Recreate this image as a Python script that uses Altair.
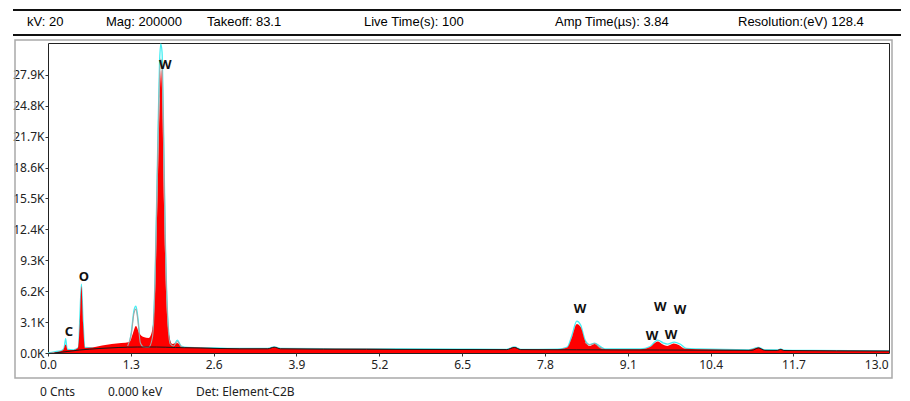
import altair as alt
import pandas as pd

# ---------------- data ----------------
x_ticks = [0.0, 1.3, 2.6, 3.9, 5.2, 6.5, 7.8, 9.1, 10.4, 11.7, 13.0]
y_ticks = [0.0, 3.1, 6.2, 9.3, 12.4, 15.5, 18.6, 21.7, 24.8, 27.9]

# measured spectrum (red fill), keV / K counts
red_kev = [0.00, 0.10, 0.18, 0.24, 0.277, 0.31, 0.40, 0.47, 0.50, 0.525, 0.55, 0.58, 0.70, 0.85, 1.00,
           1.15, 1.28, 1.33, 1.38, 1.43, 1.50, 1.58, 1.64, 1.68, 1.72, 1.755, 1.775, 1.795, 1.82, 1.86,
           1.90, 1.95, 2.03, 2.10, 2.30, 2.60, 3.00, 3.45, 3.55, 3.65, 4.50, 5.50, 6.50, 7.20, 7.32,
           7.42, 8.00, 8.15, 8.22, 8.30, 8.36, 8.43, 8.50, 8.58, 8.66, 8.75, 9.30, 9.45, 9.57, 9.65,
           9.72, 9.82, 9.90, 10.00, 10.20, 11.00, 11.15, 11.25, 11.45, 11.50, 11.55, 12.00, 13.20]
red_k = [0.0, 0.05, 0.15, 0.3, 0.85, 0.3, 0.3, 0.5, 3.0, 6.7, 3.0, 0.5, 0.55, 0.75, 0.9,
         1.0, 1.1, 1.9, 2.7, 2.0, 1.6, 1.5, 2.4, 6.0, 16.0, 25.5, 28.4, 25.0, 15.0, 5.0,
         1.8, 0.9, 1.0, 0.6, 0.55, 0.5, 0.45, 0.45, 0.6, 0.45, 0.42, 0.4, 0.38, 0.37, 0.6,
         0.37, 0.38, 0.55, 1.5, 2.9, 2.6, 1.2, 0.7, 0.9, 0.6, 0.38, 0.38, 0.6, 1.15, 0.85,
         0.7, 0.95, 0.8, 0.42, 0.38, 0.3, 0.55, 0.3, 0.3, 0.4, 0.28, 0.25, 0.2]

# reference spectrum outline (cyan)
cyan_kev = [0.00, 0.10, 0.20, 0.25, 0.277, 0.30, 0.40, 0.48, 0.50, 0.525, 0.55, 0.58, 0.70, 0.85, 1.00,
            1.15, 1.26, 1.31, 1.35, 1.38, 1.41, 1.45, 1.50, 1.58, 1.64, 1.68, 1.72, 1.75, 1.77, 1.79,
            1.81, 1.84, 1.88, 1.92, 1.97, 2.03, 2.09, 2.20, 2.60, 3.00, 3.45, 3.55, 3.65, 4.50, 5.50,
            6.50, 7.20, 7.32, 7.42, 8.00, 8.15, 8.22, 8.30, 8.36, 8.43, 8.50, 8.58, 8.66, 8.75, 9.30,
            9.45, 9.57, 9.66, 9.72, 9.83, 9.92, 10.02, 10.20, 11.00, 11.15, 11.25, 11.45, 11.50, 11.55, 12.00,
            13.20]
cyan_k = [0.0, 0.12, 0.22, 0.45, 1.45, 0.4, 0.32, 0.55, 3.6, 6.9, 3.2, 0.55, 0.5, 0.55, 0.6,
          0.65, 0.75, 2.2, 4.3, 4.7, 3.6, 1.2, 0.65, 0.62, 1.8, 7.5, 20.0, 29.0, 31.0, 30.2,
          24.0, 12.0, 3.5, 1.0, 0.75, 1.3, 0.7, 0.55, 0.5, 0.45, 0.45, 0.62, 0.45, 0.42, 0.4,
          0.38, 0.37, 0.62, 0.37, 0.38, 0.6, 1.7, 3.2, 2.8, 1.3, 0.85, 1.0, 0.7, 0.4, 0.4,
          0.65, 1.3, 1.0, 0.9, 1.1, 0.9, 0.45, 0.4, 0.32, 0.55, 0.32, 0.3, 0.4, 0.28, 0.25,
          0.2]

# peak fit (gray)
gray_seg = [1] * 22 + [2] * 5
gray_kev = [1.25, 1.31, 1.35, 1.38, 1.41, 1.45, 1.50, 1.58, 1.64, 1.68, 1.72, 1.75, 1.77, 1.79, 1.81,
            1.84, 1.88, 1.92, 1.97, 2.03, 2.09, 2.15,
            8.43, 8.50, 8.58, 8.66, 8.72]
gray_k = [0.7, 2.0, 4.0, 4.4, 3.3, 1.0, 0.6, 0.58, 1.6, 7.0, 19.0, 27.5, 29.5, 28.8, 23.0,
          11.5, 3.2, 0.9, 0.7, 1.15, 0.65, 0.55,
          1.1, 0.8, 0.95, 0.55, 0.4]

# background (black)
bg_kev = [0.10, 0.30, 0.50, 0.80, 1.10, 1.40, 1.70, 2.00, 2.40, 3.00, 3.45, 3.55, 3.65, 5.00, 7.20,
          7.32, 7.42, 8.30, 9.60, 11.05, 11.15, 11.25, 11.45, 11.50, 11.55, 13.20]
bg_k = [0.0, 0.15, 0.3, 0.45, 0.55, 0.6, 0.6, 0.55, 0.5, 0.42, 0.42, 0.58, 0.42, 0.37, 0.34,
        0.55, 0.34, 0.32, 0.3, 0.27, 0.5, 0.27, 0.26, 0.36, 0.25, 0.2]

# element labels
lab_text = ["C", "O", "W", "W", "W", "W", "W", "W"]
lab_kev = [0.33, 0.565, 1.84, 8.35, 9.61, 9.92, 9.48, 9.78]
lab_k = [2.1, 7.65, 28.9, 4.45, 4.65, 4.35, 1.7, 1.8]

header_texts = ["kV: 20", "Mag: 200000", "Takeoff: 83.1", "Live Time(s): 100",
                "Amp Time(\u00b5s): 3.84", "Resolution:(eV) 128.4"]
footer_texts = ["0 Cnts", "0.000 keV", "Det: Element-C2B"]

# ---------------- layout ----------------
W, H = 841, 310
X_MAX, Y_MAX = 13.2, 31.1
header_x = [-21, 58, 159, 316, 507, 690]
footer_x = [-8, 60, 148]

red_df = pd.DataFrame({"kev": red_kev, "k": red_k})
cyan_df = pd.DataFrame({"kev": cyan_kev, "k": cyan_k})
gray_df = pd.DataFrame({"kev": gray_kev, "k": gray_k, "seg": gray_seg})
bg_df = pd.DataFrame({"kev": bg_kev, "k": bg_k})
lab_df = pd.DataFrame({"kev": lab_kev, "k": lab_k, "lab": lab_text})
one = pd.DataFrame({"a": [0]})

tick_font = "Noto Sans"

xenc = alt.X("kev:Q",
             scale=alt.Scale(domain=[0, X_MAX], nice=False, zero=False),
             axis=alt.Axis(values=x_ticks, format=".1f", title=None, grid=False, domain=False,
                           tickSize=3, tickColor="#333", labelPadding=3, labelFlush=False,
                           labelOverlap=False,
                           labelFont=tick_font, labelFontSize=12, labelColor="#222"))
yenc = alt.Y("k:Q",
             scale=alt.Scale(domain=[0, Y_MAX], nice=False),
             axis=alt.Axis(values=y_ticks, labelExpr="format(datum.value, '.1f') + 'K'",
                           title=None, grid=False, domain=False, tickSize=3, tickColor="#333",
                           labelOverlap=False, labelPadding=1, tickCount=10,
                           labelFont=tick_font, labelFontSize=12, labelColor="#222"))

layers = []

# outer gray panel
layers.append(alt.Chart(one).mark_rect(fillOpacity=0, stroke="#a9a9a9", strokeWidth=1.5).encode(
    x=alt.value(-33), x2=alt.value(844), y=alt.value(-3), y2=alt.value(335)))

# header rules
for yy in (-33, -8):
    layers.append(alt.Chart(one).mark_rule(color="#111", strokeWidth=2).encode(
        x=alt.value(-35), x2=alt.value(862), y=alt.value(yy)))

for t, xx in zip(header_texts, header_x):
    layers.append(alt.Chart(one).mark_text(text=t, align="left", baseline="middle",
                                           font="Liberation Sans", fontSize=13, color="#000").encode(
        x=alt.value(xx), y=alt.value(-21)))

for t, xx in zip(footer_texts, footer_x):
    layers.append(alt.Chart(one).mark_text(text=t, align="left", baseline="middle",
                                           font=tick_font, fontSize=12, color="#222").encode(
        x=alt.value(xx), y=alt.value(349)))

# spectra
layers.append(alt.Chart(cyan_df).mark_line(color="#45eef2", strokeWidth=1.3,
                                           interpolate="monotone", clip=True).encode(x=xenc, y=yenc))
layers.append(alt.Chart(red_df).mark_area(color="#ff0000", interpolate="monotone", clip=True).encode(
    x=xenc, y=yenc))
layers.append(alt.Chart(gray_df).mark_line(color="#a6a6a6", strokeWidth=1.1,
                                           interpolate="monotone", clip=True).encode(
    x=xenc, y=yenc, detail="seg:N"))
layers.append(alt.Chart(bg_df).mark_line(color="#1a1a1a", strokeWidth=1,
                                         interpolate="monotone", clip=True).encode(x=xenc, y=yenc))
layers.append(alt.Chart(lab_df).mark_text(font=tick_font, fontSize=13, fontWeight="bold",
                                          color="#111", baseline="middle").encode(
    x=xenc, y=yenc, text="lab:N"))

chart = alt.layer(*layers).properties(
    width=W, height=H,
    autosize=alt.AutoSizeParams(type="none"),
    padding={"left": 40, "top": 35, "right": 12, "bottom": 46},
    background="white",
).configure_view(stroke="#222", strokeWidth=1).configure_axis(labelOverlap=False)

chart.save("out.html", embed_options={"renderer": "svg", "actions": False})
